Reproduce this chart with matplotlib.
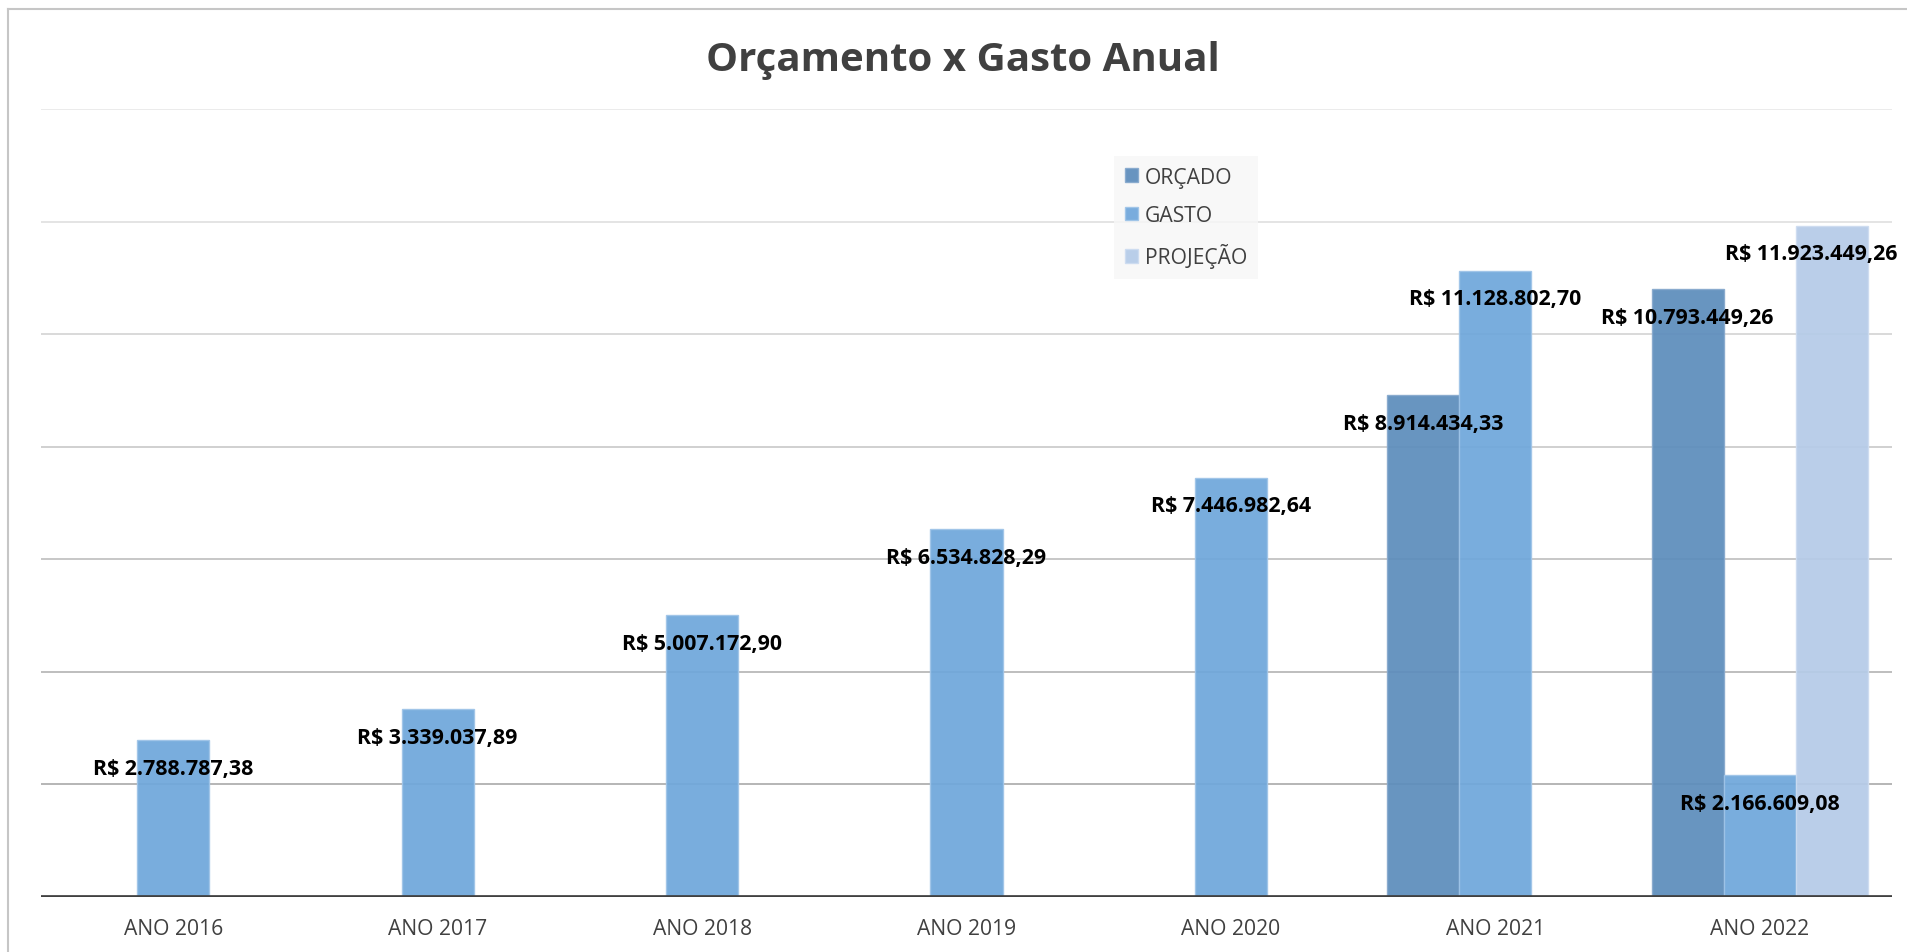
import numpy as np
import matplotlib
matplotlib.use("Agg")
import matplotlib.pyplot as plt
from matplotlib.lines import Line2D

# ---- data ----
categories = ["ANO 2016", "ANO 2017", "ANO 2018", "ANO 2019", "ANO 2020", "ANO 2021", "ANO 2022"]
series_names = ["ORÇADO", "GASTO", "PROJEÇÃO"]
orcado = [np.nan, np.nan, np.nan, np.nan, np.nan, 8914434.33, 10793449.26]
gasto = [2788787.38, 3339037.89, 5007172.90, 6534828.29, 7446982.64, 11128802.70, 2166609.08]
projecao = [np.nan, np.nan, np.nan, np.nan, np.nan, np.nan, 11923449.26]
y_ticks = [0, 2e6, 4e6, 6e6, 8e6, 10e6, 12e6, 14e6]
title = "Orçamento x Gasto Anual"

colors = ["#5d8dbc", "#6fa7db", "#b5cbe8"]
edges = ["#87a9cd", "#9fc4e8", "#cddcf0"]

plt.rcParams["font.family"] = ["Open Sans", "DejaVu Sans"]

W, H = 1908, 953
fig = plt.figure(figsize=(W / 100, H / 100), dpi=100)
ax = fig.add_axes([41 / W, 1 - 898 / H, (1892 - 41) / W, (898 - 110) / H])

x = np.arange(len(categories))
bw = 0.273
offsets = [-bw, 0.0, bw]
all_series = [orcado, gasto, projecao]

# gridlines (lighter toward the top)
grid_cols = ["#a2a2a2", "#acacac", "#b8b8b8", "#c4c4c4", "#d0d0d0", "#dcdcdc", "#e6e6e6"]
for v, c in zip(y_ticks[1:], grid_cols):
    ax.axhline(v, color=c, lw=1.1, zorder=1)

handles = []
labels = []
for vals, off, col, ec, name in zip(all_series, offsets, colors, edges, series_names):
    vals = np.array(vals, dtype=float)
    bars = ax.bar(x + off, np.nan_to_num(vals), width=bw, color=col, edgecolor=ec,
                  linewidth=1.0, alpha=0.93, zorder=2, label=name)
    handles.append(bars)
    for xi, v in zip(x, vals):
        if np.isnan(v):
            continue
        s = f"{v:,.2f}".replace(",", "X").replace(".", ",").replace("X", ".")
        a = ax.annotate("R$ " + s, xy=(xi + off, v), xytext=(0, -28), textcoords="offset pixels",
                        ha="center", va="center", fontsize=15.4, fontweight="bold",
                        color="black", zorder=5, annotation_clip=False)
        labels.append(a)

ax.axhline(0, color="#404040", lw=3.4, zorder=4)

ax.set_xlim(-0.5, len(categories) - 0.5)
ax.set_ylim(0, 14e6)
ax.set_yticks([])
ax.set_xticks(x)
ax.set_xticklabels(categories, fontsize=15.2, color="#404040")
ax.tick_params(axis="x", length=0, pad=15)
for s in ax.spines.values():
    s.set_visible(False)

fig.text(963 / W, 1 - 61 / H, title, ha="center", va="center", fontsize=29,
         fontweight="bold", color="#404040")

leg = fig.legend(handles=handles, labels=series_names, loc="upper left",
                 bbox_to_anchor=(1114 / W, 1 - 157 / H), borderaxespad=0,
                 fontsize=15.2, frameon=True, fancybox=False, handlelength=0.62,
                 handleheight=0.62, handletextpad=0.34, labelspacing=0.82,
                 borderpad=0.5)
leg.get_frame().set_facecolor("#f7f7f7")
leg.get_frame().set_edgecolor("none")
for t in leg.get_texts():
    t.set_color("#404040")

# chart border (left and top visible)
fig.add_artist(Line2D([8 / W, 8 / W], [0, 1 - 10 / H], transform=fig.transFigure, color="#c6c6c6", lw=1.5))
fig.add_artist(Line2D([8 / W, 1], [1 - 10 / H, 1 - 10 / H], transform=fig.transFigure, color="#c6c6c6", lw=1.5))

# keep data labels inside the chart area (as the spreadsheet does)
fig.canvas.draw()
renderer = fig.canvas.get_renderer()
right_limit = 1897
for a in labels:
    bb = a.get_window_extent(renderer)
    if bb.x1 > right_limit:
        dx = right_limit - bb.x1
        a.xyann = (dx, -28)

fig.savefig("out.png", dpi=100, facecolor="white")
